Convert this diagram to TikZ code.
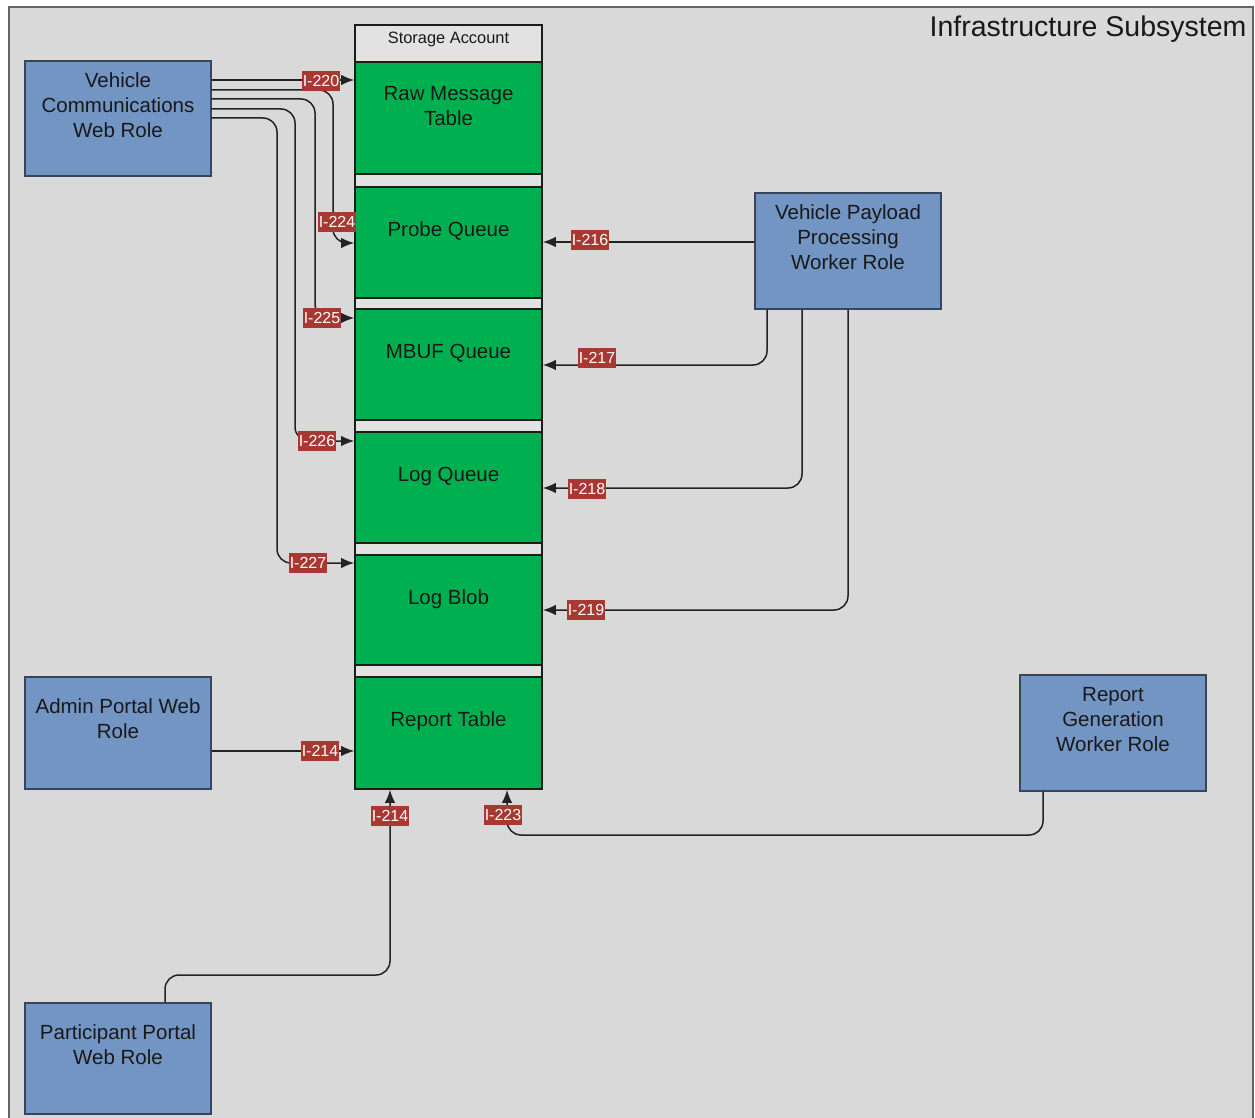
\documentclass[tikz,border=0pt]{standalone}
\usepackage{fontspec}
\setmainfont{Liberation Sans}
\usetikzlibrary{arrows.meta,calc}

\definecolor{panelgray}{RGB}{217,217,217}
\definecolor{panelframe}{RGB}{100,100,100}
\definecolor{rolefill}{RGB}{115,149,196}
\definecolor{roleedge}{RGB}{55,70,92}
\definecolor{cellfill}{RGB}{0,176,80}
\definecolor{celledge}{RGB}{25,30,25}
\definecolor{holderfill}{RGB}{226,226,226}
\definecolor{tagred}{RGB}{168,56,50}
\definecolor{linecol}{RGB}{35,35,35}
\definecolor{textdark}{RGB}{25,25,25}

\newcommand\boxfont{\fontsize{20.5}{25}\selectfont}
\newcommand\tagfont{\fontsize{16}{16}\selectfont}

\tikzset{
  rolebox/.style={draw=roleedge, fill=rolefill, line width=1.4pt,
    minimum width=186pt, inner sep=0pt, rectangle},
  cellbox/.style={draw=celledge, fill=cellfill, line width=1.6pt,
    minimum width=187pt, inner sep=0pt, rectangle},
  caption/.style={anchor=center, align=center, font=\boxfont,
    text=textdark, yshift=-45pt},
  lowcaption/.style={anchor=center, align=center, font=\boxfont,
    text=textdark, yshift=-42.5pt},
  conn/.style={draw=linecol, line width=1.5pt, rounded corners=14pt},
  tip/.style={-{Latex[length=13pt,width=10.5pt]}},
  tag/.style={fill=tagred, text=white, font=\tagfont, inner xsep=0.5pt,
    inner ysep=0pt, minimum height=20pt}
}

\begin{document}
\begin{tikzpicture}[x=1pt,y=-1pt]
\useasboundingbox (0,0) rectangle (1255,1118);
\clip (0,0) rectangle (1255,1118);
\fill[white] (0,0) rectangle (1255,1118);

% subsystem panel
\draw[fill=panelgray, draw=panelframe, line width=2pt] (9,7) rectangle (1253,1140);
\node[anchor=base east, font=\fontsize{28.5}{30}\selectfont, text=textdark]
  (title) at (1250,37) {Infrastructure Subsystem};

% storage account with its tables, queues and blob
\node[draw=celledge, fill=holderfill, line width=1.4pt, minimum width=187pt,
  minimum height=764pt, inner sep=0pt] (sa) at (448.5,407) {};
\node[font=\fontsize{16.4}{18}\selectfont, text=textdark] (satitle) at (448.5,39) {Storage Account};

\node[cellbox, minimum height=112pt, label={[caption]north:{Raw Message\\Table}}] (raw) at (448.5,118) {};
\node[cellbox, minimum height=111pt, label={[caption]north:Probe Queue}] (probe) at (448.5,242.5) {};
\node[cellbox, minimum height=111pt, label={[caption]north:MBUF Queue}] (mbuf) at (448.5,364.5) {};
\node[cellbox, minimum height=111pt, label={[caption]north:Log Queue}] (logq) at (448.5,487.5) {};
\node[cellbox, minimum height=110pt, label={[caption]north:Log Blob}] (blob) at (448.5,610) {};
\node[cellbox, minimum height=112pt, label={[caption]north:Report Table}] (report) at (448.5,733) {};

% roles
\node[rolebox, minimum height=115pt,
  label={[caption]north:{Vehicle\\Communications\\Web Role}}] (vc) at (118,118.5) {};
\node[rolebox, minimum height=116pt,
  label={[caption]north:{Vehicle Payload\\Processing\\Worker Role}}] (vp) at (848,251) {};
\node[rolebox, minimum height=112pt,
  label={[lowcaption]north:{Admin Portal Web\\Role}}] (ap) at (118,733) {};
\node[rolebox, minimum height=116pt,
  label={[caption]north:{Report\\Generation\\Worker Role}}] (rg) at (1113,733) {};
\node[rolebox, minimum height=111pt,
  label={[lowcaption]north:{Participant Portal\\Web Role}}] (pp) at (118,1058.5) {};

% vehicle communications web role -> storage
\draw[conn, tip] (vc.east |- 0,80) -- (raw.west |- 0,80);
\draw[conn, tip] (vc.east |- 0,90) -- (333,90) -- (333,243) -- (probe.west |- 0,243);
\draw[conn, tip] (vc.east |- 0,99) -- (315,99) -- (315,318) -- (mbuf.west |- 0,318);
\draw[conn, tip] (vc.east |- 0,109) -- (295,109) -- (295,441) -- (logq.west |- 0,441);
\draw[conn, tip] (vc.east |- 0,118) -- (277,118) -- (277,563) -- (blob.west |- 0,563);

% payload processing worker role -> storage
\draw[conn, tip] (vp.west |- 0,242) -- (probe.east |- 0,242);
\draw[conn, tip] (vp.south -| 767,0) -- (767,365) -- (mbuf.east |- 0,365);
\draw[conn, tip] (vp.south -| 802,0) -- (802,488) -- (logq.east |- 0,488);
\draw[conn, tip] (vp.south -| 848,0) -- (848,610) -- (blob.east |- 0,610);

% portals and report generation -> report table
\draw[conn, tip] (ap.east |- 0,751) -- (report.west |- 0,751);
\draw[conn, tip] (pp.north -| 165,0) -- (165,975) -- (390,975) -- (report.south -| 390,0);
\draw[conn, tip] (rg.south -| 1043,0) -- (1043,835) -- (507,835) -- (report.south -| 507,0);

% interface tags
\node[tag] (t220) at (321,81) {I-220};
\node[tag] (t224) at (337,222) {I-224};
\node[tag] (t225) at (322,318) {I-225};
\node[tag] (t226) at (317,441) {I-226};
\node[tag] (t227) at (308,563) {I-227};
\node[tag] (t216) at (590,240) {I-216};
\node[tag] (t217) at (597,358) {I-217};
\node[tag] (t218) at (587,489) {I-218};
\node[tag] (t219) at (586,610) {I-219};
\node[tag] (t214a) at (320,751) {I-214};
\node[tag] (t214b) at (390,816) {I-214};
\node[tag] (t223) at (503,815) {I-223};
\end{tikzpicture}
\end{document}
